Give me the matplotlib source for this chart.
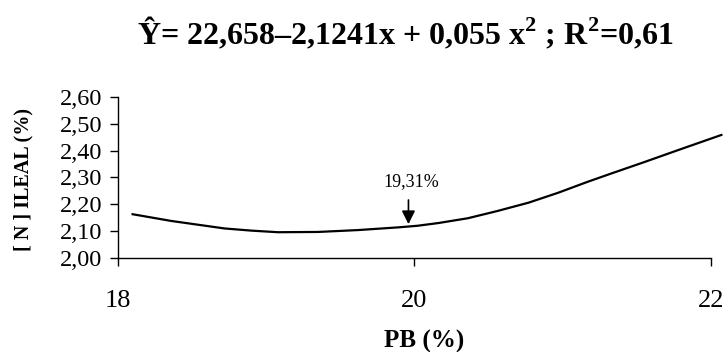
import matplotlib
matplotlib.use("Agg")
import matplotlib.pyplot as plt
from matplotlib.ticker import FuncFormatter

# N ileal (%) versus dietary crude protein (%)
pb = [18.10, 18.36, 18.54, 18.72, 18.90, 19.08, 19.35, 19.62, 19.89, 20.02,
      20.16, 20.36, 20.56, 20.77, 20.97, 21.17, 21.33, 21.55, 21.78, 22.07]
n_ileal = [2.163, 2.138, 2.124, 2.110, 2.102, 2.096, 2.097, 2.104, 2.114, 2.120,
           2.130, 2.148, 2.175, 2.206, 2.243, 2.284, 2.315, 2.357, 2.402, 2.458]

x_ticks = [18, 20, 22]
y_ticks = [2.00, 2.10, 2.20, 2.30, 2.40, 2.50, 2.60]

# point of the minimum marked with an arrow
opt_x = 19.96
opt_y = 2.126
opt_label = "19,31%"

title = r"Ŷ= 22,658–2,1241x + 0,055 x$^{\mathbf{2}}$ ; R$^{\mathbf{2}}$=0,61"

plt.rcParams['font.family'] = ['Liberation Serif', 'DejaVu Serif']
plt.rcParams['mathtext.fontset'] = 'custom'
plt.rcParams['mathtext.rm'] = 'Liberation Serif'
plt.rcParams['mathtext.bf'] = 'Liberation Serif:bold'

fig = plt.figure(figsize=(7.27, 3.52), dpi=100)
ax = fig.add_axes([0.162, 0.267, 0.816, 0.458])

ax.plot(pb, n_ileal, color='black', linewidth=1.6, clip_on=False)

ax.set_xlim(18, 22)
ax.set_ylim(2.0, 2.6)
ax.set_xticks(x_ticks)
ax.set_yticks(y_ticks)
ax.yaxis.set_major_formatter(FuncFormatter(lambda v, p: f"{v:.2f}".replace('.', ',')))
ax.tick_params(axis='x', labelsize=19, length=6, width=1, pad=17)
ax.tick_params(axis='y', labelsize=17.5, length=6, width=1, pad=5)

for side in ['top', 'right']:
    ax.spines[side].set_visible(False)
for side in ['left', 'bottom']:
    ax.spines[side].set_linewidth(1)

ax.annotate("", xy=(opt_x, opt_y), xytext=(opt_x, opt_y + 0.09),
            arrowprops=dict(arrowstyle='-|>,head_width=0.4,head_length=0.8',
                            color='black', linewidth=1.2, shrinkA=0, shrinkB=0))
ax.text(opt_x + 0.02, opt_y + 0.157, opt_label, fontsize=13,
        ha='center', va='center')

fig.text(0.557, 0.906, title, fontsize=23, fontweight='bold',
         ha='center', va='center')
fig.text(0.584, 0.031, "PB (%)", fontsize=18, fontweight='bold',
         ha='center', va='center')
fig.text(0.032, 0.49, "[ N ] ILEAL (%)", fontsize=14.5, fontweight='bold',
         ha='center', va='center', rotation=90)

fig.savefig("out.png", dpi=100)
